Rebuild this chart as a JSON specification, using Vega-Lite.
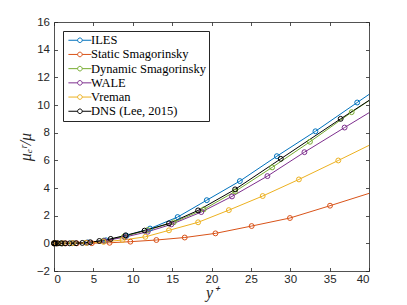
{
  "$schema": "https://vega.github.io/schema/vega-lite/v6.json",
  "autosize": "none",
  "width": 315,
  "height": 249,
  "padding": {"left": 54, "top": 22, "right": 38, "bottom": 34},
  "background": "white",
  "config": {
    "view": {"stroke": null},
    "axis": {
      "grid": false,
      "domainColor": "#262626",
      "domainWidth": 0.8,
      "tickColor": "#262626",
      "tickWidth": 0.8,
      "tickSize": -3.5,
      "labelFont": "Liberation Sans",
      "labelFontSize": 11.5,
      "labelColor": "#262626",
      "titleFont": "Liberation Serif",
      "titleFontStyle": "italic",
      "titleFontWeight": "normal",
      "titleFontSize": 16,
      "titleColor": "#262626"
    }
  },
  "data": {
    "values": [
      {"series": "ILES", "yplus": 0, "mu": 0},
      {"series": "ILES", "yplus": 0.3, "mu": 0},
      {"series": "ILES", "yplus": 1.0, "mu": 0},
      {"series": "ILES", "yplus": 2.4, "mu": 0.01},
      {"series": "ILES", "yplus": 4.3, "mu": 0.06},
      {"series": "ILES", "yplus": 6.6, "mu": 0.22},
      {"series": "ILES", "yplus": 9.2, "mu": 0.55},
      {"series": "ILES", "yplus": 12.2, "mu": 1.07},
      {"series": "ILES", "yplus": 15.7, "mu": 1.9},
      {"series": "ILES", "yplus": 19.4, "mu": 3.12},
      {"series": "ILES", "yplus": 23.6, "mu": 4.5},
      {"series": "ILES", "yplus": 28.3, "mu": 6.3},
      {"series": "ILES", "yplus": 33.2, "mu": 8.1},
      {"series": "ILES", "yplus": 38.5, "mu": 10.18},
      {"series": "ILES", "yplus": 44.2, "mu": 12.4},

      {"series": "Static Smagorinsky", "yplus": 0, "mu": 0},
      {"series": "Static Smagorinsky", "yplus": 0.4, "mu": 0},
      {"series": "Static Smagorinsky", "yplus": 1.5, "mu": 0},
      {"series": "Static Smagorinsky", "yplus": 2.9, "mu": 0},
      {"series": "Static Smagorinsky", "yplus": 4.8, "mu": 0.01},
      {"series": "Static Smagorinsky", "yplus": 7.06, "mu": 0.04},
      {"series": "Static Smagorinsky", "yplus": 9.7, "mu": 0.12},
      {"series": "Static Smagorinsky", "yplus": 13.0, "mu": 0.24},
      {"series": "Static Smagorinsky", "yplus": 16.6, "mu": 0.42},
      {"series": "Static Smagorinsky", "yplus": 20.5, "mu": 0.72},
      {"series": "Static Smagorinsky", "yplus": 25.1, "mu": 1.25},
      {"series": "Static Smagorinsky", "yplus": 29.96, "mu": 1.83},
      {"series": "Static Smagorinsky", "yplus": 35.05, "mu": 2.72},
      {"series": "Static Smagorinsky", "yplus": 40.5, "mu": 3.7},

      {"series": "Dynamic Smagorinsky", "yplus": 0, "mu": 0},
      {"series": "Dynamic Smagorinsky", "yplus": 0.3, "mu": 0},
      {"series": "Dynamic Smagorinsky", "yplus": 1.0, "mu": 0},
      {"series": "Dynamic Smagorinsky", "yplus": 2.3, "mu": 0.01},
      {"series": "Dynamic Smagorinsky", "yplus": 4.1, "mu": 0.05},
      {"series": "Dynamic Smagorinsky", "yplus": 6.3, "mu": 0.2},
      {"series": "Dynamic Smagorinsky", "yplus": 8.9, "mu": 0.5},
      {"series": "Dynamic Smagorinsky", "yplus": 11.9, "mu": 0.96},
      {"series": "Dynamic Smagorinsky", "yplus": 15.2, "mu": 1.52},
      {"series": "Dynamic Smagorinsky", "yplus": 19.0, "mu": 2.45},
      {"series": "Dynamic Smagorinsky", "yplus": 23.0, "mu": 3.75},
      {"series": "Dynamic Smagorinsky", "yplus": 27.7, "mu": 5.49},
      {"series": "Dynamic Smagorinsky", "yplus": 32.5, "mu": 7.34},
      {"series": "Dynamic Smagorinsky", "yplus": 37.8, "mu": 9.48},
      {"series": "Dynamic Smagorinsky", "yplus": 43.4, "mu": 11.6},

      {"series": "WALE", "yplus": 0, "mu": 0},
      {"series": "WALE", "yplus": 0.3, "mu": 0},
      {"series": "WALE", "yplus": 1.1, "mu": 0},
      {"series": "WALE", "yplus": 2.4, "mu": 0.01},
      {"series": "WALE", "yplus": 4.2, "mu": 0.05},
      {"series": "WALE", "yplus": 6.4, "mu": 0.18},
      {"series": "WALE", "yplus": 9.0, "mu": 0.45},
      {"series": "WALE", "yplus": 11.9, "mu": 0.84},
      {"series": "WALE", "yplus": 14.9, "mu": 1.37},
      {"series": "WALE", "yplus": 18.7, "mu": 2.26},
      {"series": "WALE", "yplus": 22.6, "mu": 3.39},
      {"series": "WALE", "yplus": 27.1, "mu": 4.86},
      {"series": "WALE", "yplus": 31.8, "mu": 6.59},
      {"series": "WALE", "yplus": 36.9, "mu": 8.37},
      {"series": "WALE", "yplus": 42.2, "mu": 10.2},

      {"series": "Vreman", "yplus": 0, "mu": 0},
      {"series": "Vreman", "yplus": 0.3, "mu": 0},
      {"series": "Vreman", "yplus": 1.1, "mu": 0},
      {"series": "Vreman", "yplus": 2.4, "mu": 0.01},
      {"series": "Vreman", "yplus": 4.1, "mu": 0.03},
      {"series": "Vreman", "yplus": 6.3, "mu": 0.1},
      {"series": "Vreman", "yplus": 8.7, "mu": 0.24},
      {"series": "Vreman", "yplus": 11.6, "mu": 0.47},
      {"series": "Vreman", "yplus": 14.6, "mu": 0.94},
      {"series": "Vreman", "yplus": 18.3, "mu": 1.52},
      {"series": "Vreman", "yplus": 22.2, "mu": 2.4},
      {"series": "Vreman", "yplus": 26.5, "mu": 3.42},
      {"series": "Vreman", "yplus": 31.1, "mu": 4.62},
      {"series": "Vreman", "yplus": 36.1, "mu": 5.99},
      {"series": "Vreman", "yplus": 41.5, "mu": 7.5},

      {"series": "DNS (Lee, 2015)", "yplus": 0, "mu": 0},
      {"series": "DNS (Lee, 2015)", "yplus": 0.05, "mu": 0},
      {"series": "DNS (Lee, 2015)", "yplus": 0.2, "mu": 0},
      {"series": "DNS (Lee, 2015)", "yplus": 0.5, "mu": 0},
      {"series": "DNS (Lee, 2015)", "yplus": 0.9, "mu": 0},
      {"series": "DNS (Lee, 2015)", "yplus": 1.4, "mu": 0},
      {"series": "DNS (Lee, 2015)", "yplus": 2.0, "mu": 0},
      {"series": "DNS (Lee, 2015)", "yplus": 2.8, "mu": 0.01},
      {"series": "DNS (Lee, 2015)", "yplus": 3.6, "mu": 0.03},
      {"series": "DNS (Lee, 2015)", "yplus": 4.6, "mu": 0.08},
      {"series": "DNS (Lee, 2015)", "yplus": 5.75, "mu": 0.17},
      {"series": "DNS (Lee, 2015)", "yplus": 7.2, "mu": 0.32},
      {"series": "DNS (Lee, 2015)", "yplus": 9.1, "mu": 0.58},
      {"series": "DNS (Lee, 2015)", "yplus": 11.5, "mu": 0.92},
      {"series": "DNS (Lee, 2015)", "yplus": 14.6, "mu": 1.44},
      {"series": "DNS (Lee, 2015)", "yplus": 18.3, "mu": 2.38},
      {"series": "DNS (Lee, 2015)", "yplus": 23.0, "mu": 3.9},
      {"series": "DNS (Lee, 2015)", "yplus": 28.8, "mu": 6.11},
      {"series": "DNS (Lee, 2015)", "yplus": 36.4, "mu": 9.0},
      {"series": "DNS (Lee, 2015)", "yplus": 46.0, "mu": 12.55}
    ]
  },
  "layer": [
    {
      "mark": {"type": "line", "clip": true, "strokeWidth": 1},
      "encoding": {
        "x": {"field": "yplus", "type": "quantitative",
              "scale": {"domain": [0, 40], "nice": false},
              "axis": {"values": [0, 5, 10, 15, 20, 25, 30, 35, 40], "title": "y⁺", "labelPadding": 6, "titlePadding": -1}},
        "y": {"field": "mu", "type": "quantitative",
              "scale": {"domain": [-2, 16], "nice": false},
              "axis": {"values": [-2, 0, 2, 4, 6, 8, 10, 12, 14, 16], "title": "μₑʳ/μ", "labelPadding": 8, "titlePadding": 3}},
        "color": {"field": "series", "type": "nominal",
                  "scale": {"domain": ["ILES", "Static Smagorinsky", "Dynamic Smagorinsky", "WALE", "Vreman", "DNS (Lee, 2015)"],
                            "range": ["#0072BD", "#D95319", "#77AC30", "#7E2F8E", "#EDB120", "#000000"]},
                  "legend": {"title": null, "orient": "none", "legendX": 9, "legendY": 9,
                             "labelFont": "Liberation Serif",
                             "labelFontSize": 12.5,
                             "labelColor": "#000000",
                             "strokeColor": "#262626",
                             "fillColor": "white",
                             "padding": 3,
                             "rowPadding": 1.2,
                             "labelOffset": 12.5,
                             "symbolStrokeWidth": 1,
                             "symbolFillColor": "transparent",
                             "symbolType": "M-1,0H1.4M2.6,0H5M1.4,0A0.6,0.6 0 1,1 2.6,0A0.6,0.6 0 1,1 1.4,0Z",
                             "symbolSize": 58.8}}
      }
    },
    {
      "transform": [{"filter": "datum.yplus <= 40"}],
      "mark": {"type": "point", "filled": false, "size": 24, "strokeWidth": 1, "opacity": 1},
      "encoding": {
        "x": {"field": "yplus", "type": "quantitative", "axis": null},
        "y": {"field": "mu", "type": "quantitative", "axis": null},
        "color": {"field": "series", "type": "nominal", "legend": null}
      }
    },
    {
      "mark": {"type": "point", "opacity": 0},
      "encoding": {
        "x": {"field": "yplus", "type": "quantitative",
              "axis": {"orient": "top", "labels": false, "title": null, "values": [0, 5, 10, 15, 20, 25, 30, 35, 40]}},
        "y": {"field": "mu", "type": "quantitative",
              "axis": {"orient": "right", "labels": false, "title": null, "values": [-2, 0, 2, 4, 6, 8, 10, 12, 14, 16]}}
      }
    }
  ],
  "resolve": {"axis": {"x": "independent", "y": "independent"}}
}
